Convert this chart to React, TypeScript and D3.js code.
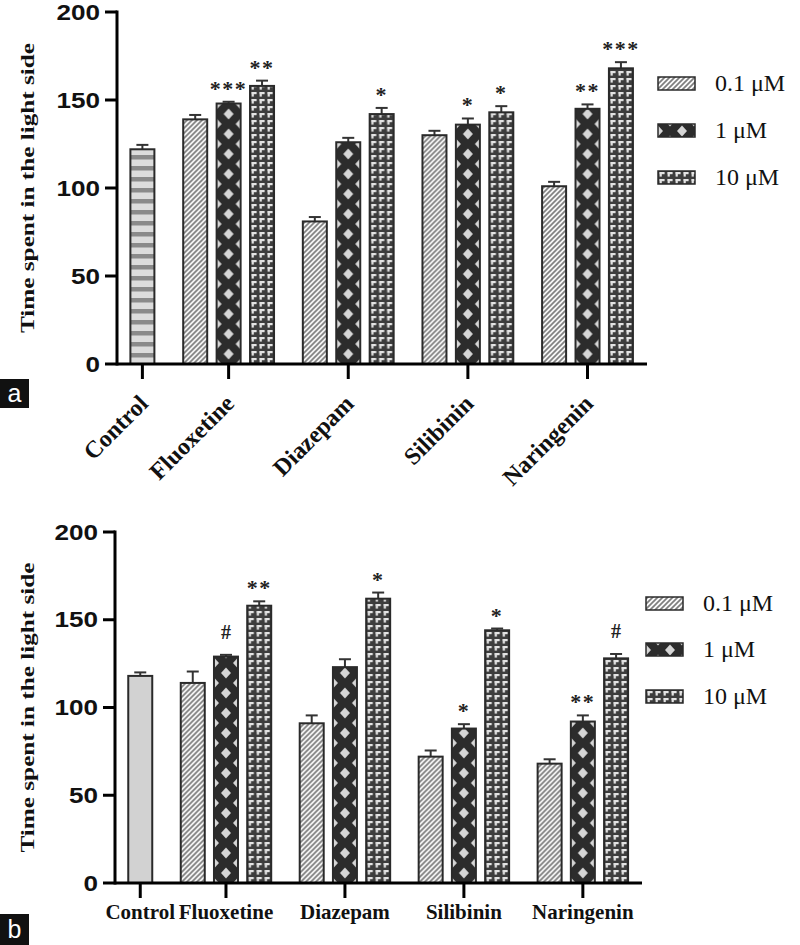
import React from "react";
import * as d3 from "d3";

// ---------- DATA ----------
const controlLabel = "Control";
const groupNames = ["Fluoxetine", "Diazepam", "Silibinin", "Naringenin"];
const doseLabels = ["0.1 μM", "1 μM", "10 μM"];
const yTicks = [0, 50, 100, 150, 200];

// Panel a
const aControl = 122;
const aControlErr = 2.5;
const aDose01 = [139, 81, 130, 101];
const aDose01Err = [2.5, 2.5, 2.5, 2.5];
const aDose1 = [148, 126, 136, 145];
const aDose1Err = [1, 2.5, 3.5, 2.5];
const aDose10 = [158, 142, 143, 168];
const aDose10Err = [3, 3.5, 3.5, 3.5];
const aMarks01 = ["", "", "", ""];
const aMarks1 = ["***", "", "*", "**"];
const aMarks10 = ["**", "*", "*", "***"];

// Panel b
const bControl = 118;
const bControlErr = 2;
const bDose01 = [114, 91, 72, 68];
const bDose01Err = [6.5, 4.5, 3.5, 2.5];
const bDose1 = [129, 123, 88, 92];
const bDose1Err = [1, 4.5, 2.5, 3.5];
const bDose10 = [158, 162, 144, 128];
const bDose10Err = [2.5, 3.5, 1, 2.5];
const bMarks01 = ["", "", "", ""];
const bMarks1 = ["#", "", "*", "**"];
const bMarks10 = ["**", "*", "*", "#"];

const yTitle = "Time spent in the light side";

// ---------- STYLE / LAYOUT ----------
const BAR_W = 24;
const GAP_U = 0.58;
const PAT_TYPES = ["hatch", "diamond", "check"];

type Cfg = {
  id: string;
  axisX: number;
  xEnd: number;
  y0: number;
  yTop: number;
  control: number;
  controlErr: number;
  controlType: string;
  doses: number[][];
  errs: number[][];
  marks: string[][];
  rotateLabels: boolean;
  legendX: number;
  legendTextX: number;
  legendBaselines: number[];
  titleX: number;
  panelLabel: string;
  labelBox: { x: number; y: number; w: number; h: number };
};

const cfgA: Cfg = {
  id: "a",
  axisX: 117,
  xEnd: 647,
  y0: 364,
  yTop: 12,
  control: aControl,
  controlErr: aControlErr,
  controlType: "stripes",
  doses: [aDose01, aDose1, aDose10],
  errs: [aDose01Err, aDose1Err, aDose10Err],
  marks: [aMarks01, aMarks1, aMarks10],
  rotateLabels: true,
  legendX: 658,
  legendTextX: 715,
  legendBaselines: [91, 138, 185],
  titleX: 28,
  panelLabel: "a",
  labelBox: { x: 0, y: 379, w: 29, h: 29 },
};

const cfgB: Cfg = {
  id: "b",
  axisX: 115,
  xEnd: 642,
  y0: 883,
  yTop: 532,
  control: bControl,
  controlErr: bControlErr,
  controlType: "solid",
  doses: [bDose01, bDose1, bDose10],
  errs: [bDose01Err, bDose1Err, bDose10Err],
  marks: [bMarks01, bMarks1, bMarks10],
  rotateLabels: false,
  legendX: 646,
  legendTextX: 703,
  legendBaselines: [611, 657, 704],
  titleX: 27.5,
  panelLabel: "b",
  labelBox: { x: 0, y: 914, w: 29, h: 31 },
};

function Pattern({ id, type, x, y, w }: { id: string; type: string; x: number; y: number; w: number }) {
  if (type === "hatch") {
    return (
      <pattern id={id} patternUnits="userSpaceOnUse" x={x} y={y} width={5} height={5}>
        <rect width={5} height={5} fill="#fafafa" />
        <path d="M0,5 L5,0 M-1.25,1.25 L1.25,-1.25 M3.75,6.25 L6.25,3.75" stroke="#7d7d7d" strokeWidth={1.7} />
      </pattern>
    );
  }
  if (type === "diamond") {
    const h = 20;
    const dx = 5;
    const dy = 5.6;
    const c = w / 2;
    return (
      <pattern id={id} patternUnits="userSpaceOnUse" x={x} y={y} width={w} height={h}>
        <rect width={w} height={h} fill="#2c2c2c" />
        <polygon points={`${c},${10 - dy} ${c + dx},10 ${c},${10 + dy} ${c - dx},10`} fill="#d6d6d6" />
        {[0, h].map((yy) => (
          <g key={yy}>
            <polygon points={`0,${yy - dy} ${dx},${yy} 0,${yy + dy}`} fill="#d6d6d6" />
            <polygon points={`${w},${yy - dy} ${w - dx},${yy} ${w},${yy + dy}`} fill="#d6d6d6" />
          </g>
        ))}
      </pattern>
    );
  }
  if (type === "check") {
    return (
      <pattern id={id} patternUnits="userSpaceOnUse" x={x} y={y} width={8} height={7}>
        <rect width={8} height={7} fill="#3d3d3d" />
        <rect x={1.6} y={1} width={5} height={2.2} fill="#e4e4e4" />
        <rect x={1.6} y={1} width={2.2} height={4.6} fill="#e4e4e4" />
      </pattern>
    );
  }
  if (type === "stripes") {
    return (
      <pattern id={id} patternUnits="userSpaceOnUse" x={x} y={y} width={w} height={11}>
        <rect width={w} height={11} fill="#dcdcdc" />
        <rect y={0} width={w} height={4.5} fill="#8a8a8a" />
      </pattern>
    );
  }
  return null;
}

function Panel({ cfg }: { cfg: Cfg }) {
  const x = d3.scaleLinear().domain([-0.76, 15.1]).range([cfg.axisX, cfg.xEnd]);
  const y = d3.scaleLinear().domain([0, 200]).range([cfg.y0, cfg.yTop]);
  const slot = (g: number, d: number) => 1 + GAP_U + g * (3 + GAP_U) + d;
  const edge = "#2a2a2a";

  type Bar = { key: string; cx: number; v: number; e: number; type: string; mark: string };
  const bars: Bar[] = [
    { key: "ctrl", cx: x(0), v: cfg.control, e: cfg.controlErr, type: cfg.controlType, mark: "" },
  ];
  groupNames.forEach((_, g) => {
    [0, 1, 2].forEach((d) => {
      bars.push({
        key: `g${g}d${d}`,
        cx: x(slot(g, d)),
        v: cfg.doses[d][g],
        e: cfg.errs[d][g],
        type: PAT_TYPES[d],
        mark: cfg.marks[d][g],
      });
    });
  });

  const tickXs = [x(0), ...groupNames.map((_, g) => x(slot(g, 1)))];
  const labels = [controlLabel, ...groupNames];

  return (
    <g>
      <defs>
        {bars.map((b) =>
          b.type === "solid" ? null : (
            <Pattern key={b.key} id={`p-${cfg.id}-${b.key}`} type={b.type} x={b.cx - BAR_W / 2} y={cfg.y0} w={BAR_W} />
          )
        )}
        {PAT_TYPES.map((t, i) => (
          <Pattern
            key={`leg${i}`}
            id={`p-${cfg.id}-leg${i}`}
            type={t}
            x={cfg.legendX}
            y={cfg.legendBaselines[i] - 7}
            w={BAR_W}
          />
        ))}
      </defs>

      {/* bars */}
      {bars.map((b) => {
        const top = y(b.v);
        const et = y(b.v + b.e);
        const isHash = b.mark === "#";
        return (
          <g key={b.key}>
            <line x1={b.cx} x2={b.cx} y1={top} y2={et} stroke="#333" strokeWidth={2} />
            <line x1={b.cx - 6} x2={b.cx + 6} y1={et} y2={et} stroke="#333" strokeWidth={2} />
            <rect
              x={b.cx - BAR_W / 2}
              y={top}
              width={BAR_W}
              height={cfg.y0 - top}
              fill={b.type === "solid" ? "#d2d2d2" : `url(#p-${cfg.id}-${b.key})`}
              stroke={edge}
              strokeWidth={2}
            />
            {b.mark && (
              <text
                x={b.cx}
                y={isHash ? et - 23 + 7 : et - 16 + 10}
                textAnchor="middle"
                fontFamily="'Liberation Serif', serif"
                fontWeight="bold"
                fontSize={isHash ? 20 : 22}
                letterSpacing={isHash ? 0 : 1.5}
                fill="#222"
              >
                {b.mark}
              </text>
            )}
          </g>
        );
      })}

      {/* axes */}
      <line x1={cfg.axisX} x2={cfg.axisX} y1={cfg.yTop - 1.5} y2={cfg.y0 + 1.5} stroke="#000" strokeWidth={3} />
      <line x1={cfg.axisX} x2={cfg.xEnd} y1={cfg.y0} y2={cfg.y0} stroke="#000" strokeWidth={3} />
      {yTicks.map((t) => (
        <g key={t}>
          <line x1={cfg.axisX - 12} x2={cfg.axisX} y1={y(t)} y2={y(t)} stroke="#000" strokeWidth={3} />
          <text
            x={cfg.axisX - 17}
            y={y(t) + 7.5}
            textAnchor="end"
            fontFamily="'Liberation Sans', Arial, sans-serif"
            fontWeight="bold"
            fontSize={21.5}
            textLength={14.5 * String(t).length}
            lengthAdjust="spacingAndGlyphs"
            fill="#111"
          >
            {t}
          </text>
        </g>
      ))}
      {tickXs.map((tx, i) => (
        <g key={i}>
          <line x1={tx} x2={tx} y1={cfg.y0} y2={cfg.y0 + 15} stroke="#000" strokeWidth={3} />
          {cfg.rotateLabels ? (
            <text
              transform={`translate(${tx + 7},${cfg.y0 + 41}) rotate(-45)`}
              textAnchor="end"
              fontFamily="'Liberation Serif', serif"
              fontWeight="bold"
              fontSize={24}
              fill="#111"
            >
              {labels[i]}
            </text>
          ) : (
            <text
              x={tx}
              y={cfg.y0 + 36}
              textAnchor="middle"
              fontFamily="'Liberation Serif', serif"
              fontWeight="bold"
              fontSize={21}
              fill="#111"
            >
              {labels[i]}
            </text>
          )}
        </g>
      ))}

      {/* y title */}
      <text
        transform={`translate(${cfg.titleX + 6},${(cfg.y0 + cfg.yTop) / 2}) rotate(-90)`}
        textAnchor="middle"
        fontFamily="'Liberation Serif', serif"
        fontWeight="bold"
        fontSize={19}
        textLength={290}
        lengthAdjust="spacingAndGlyphs"
        fill="#111"
      >
        {yTitle}
      </text>

      {/* legend */}
      {doseLabels.map((lab, i) => (
        <g key={lab}>
          <rect
            x={cfg.legendX}
            y={cfg.legendBaselines[i] - 14}
            width={37}
            height={13}
            fill={`url(#p-${cfg.id}-leg${i})`}
            stroke={edge}
            strokeWidth={1.5}
          />
          <text
            x={cfg.legendTextX}
            y={cfg.legendBaselines[i]}
            fontFamily="'Liberation Serif', serif"
            fontSize={24}
            fill="#111"
          >
            {lab}
          </text>
        </g>
      ))}

      {/* panel label */}
      <rect x={cfg.labelBox.x} y={cfg.labelBox.y} width={cfg.labelBox.w} height={cfg.labelBox.h} fill="#111" />
      <text
        x={cfg.labelBox.x + cfg.labelBox.w / 2}
        y={cfg.labelBox.y + cfg.labelBox.h / 2 + 8}
        textAnchor="middle"
        fontFamily="'Liberation Sans', Arial, sans-serif"
        fontSize={25}
        fill="#fff"
      >
        {cfg.panelLabel}
      </text>
    </g>
  );
}

export default function App() {
  return (
    <svg
      width={800}
      height={945}
      viewBox="0 0 800 945"
      style={{ position: "absolute", left: 0, top: 0, background: "#fff" }}
    >
      <rect width={800} height={945} fill="#fff" />
      <Panel cfg={cfgA} />
      <Panel cfg={cfgB} />
    </svg>
  );
}
